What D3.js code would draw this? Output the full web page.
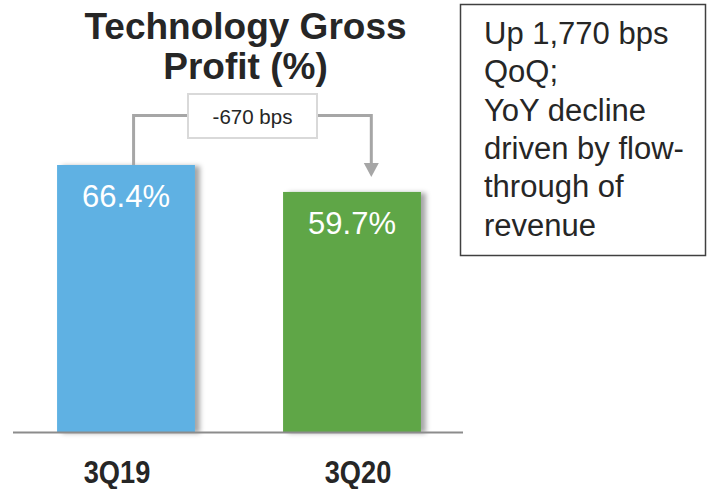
<!DOCTYPE html>
<html>
<head>
<meta charset="utf-8">
<script src="https://cdn.jsdelivr.net/npm/d3@7"></script>
<style>
  body { margin: 0; background: #fff; }
  svg { display: block; font-family: "Liberation Sans", Arial, sans-serif; }
</style>
</head>
<body>
<svg id="chart" width="708" height="489"></svg>
<script>
// data
var categories = ["3Q19", "3Q20"];
var values = [66.4, 59.7];
var barColors = ["#5eb1e3", "#5ea646"];
var titleLines = ["Technology Gross", "Profit (%)"];
var deltaLabel = "-670 bps";
var noteLines = ["Up 1,770 bps", "QoQ;", "YoY decline", "driven by flow-", "through of", "revenue"];

var svg = d3.select("#chart");
var ink = "#262626";

var x = d3.scaleBand()
    .domain(categories)
    .range([13, 465])
    .paddingInner(0.39)
    .paddingOuter(0.195);

var y = d3.scaleLinear()
    .domain([0, 70])
    .range([432, 432 - 70 * 4.021]);

// soft shadow on the right of the bars
var defs = svg.append("defs");
var f = defs.append("filter").attr("id", "shadow")
    .attr("x", "-10%").attr("y", "-10%").attr("width", "130%").attr("height", "120%");
f.append("feDropShadow")
    .attr("dx", 5).attr("dy", 1)
    .attr("stdDeviation", 2.5)
    .attr("flood-color", "#000").attr("flood-opacity", 0.35);

// title
svg.append("text")
    .attr("text-anchor", "middle")
    .attr("font-weight", "bold")
    .attr("font-size", 37)
    .attr("fill", ink)
    .selectAll("tspan")
    .data(titleLines)
    .enter().append("tspan")
    .attr("x", 245.5)
    .attr("y", function(d, i) { return 39 + i * 40; })
    .text(function(d) { return d; });

// bars
svg.selectAll(".bar")
    .data(values)
    .enter().append("rect")
    .attr("class", "bar")
    .attr("x", function(d, i) { return x(categories[i]); })
    .attr("y", function(d) { return y(d); })
    .attr("width", x.bandwidth())
    .attr("height", function(d) { return y(0) - y(d); })
    .attr("fill", function(d, i) { return barColors[i]; })
    .attr("filter", "url(#shadow)");

// value labels inside bars
svg.selectAll(".val")
    .data(values)
    .enter().append("text")
    .attr("class", "val")
    .attr("x", function(d, i) { return x(categories[i]) + x.bandwidth() / 2; })
    .attr("y", function(d) { return y(d) + 42; })
    .attr("text-anchor", "middle")
    .attr("font-size", 31)
    .attr("fill", "#fff")
    .text(function(d) { return d.toFixed(1) + "%"; });

// baseline
svg.append("line")
    .attr("x1", 13).attr("x2", 463)
    .attr("y1", y(0) + 0.5).attr("y2", y(0) + 0.5)
    .attr("stroke", "#8c8c8c")
    .attr("stroke-width", 2);

// category labels (condensed bold)
var labelShift = [-9, 6];
svg.selectAll(".cat")
    .data(categories)
    .enter().append("text")
    .attr("class", "cat")
    .attr("transform", function(d, i) {
      return "translate(" + (x(d) + x.bandwidth() / 2 + labelShift[i]) + ",483) scale(0.85,1)";
    })
    .attr("text-anchor", "middle")
    .attr("font-weight", "bold")
    .attr("font-size", 32)
    .attr("fill", ink)
    .text(function(d) { return d; });

// change connector
var lx = x(categories[0]) + x.bandwidth() * 0.555;
var rx = x(categories[1]) + x.bandwidth() * 0.64;
var lineY = 115.5;
var box = { x: 188, y: 94, w: 129, h: 44 };
var tipY = y(values[1]) - 15;

svg.append("path")
    .attr("d", "M" + lx + "," + y(values[0]) + "V" + lineY + "H" + box.x)
    .attr("fill", "none").attr("stroke", "#a6a6a6").attr("stroke-width", 3);
svg.append("path")
    .attr("d", "M" + (box.x + box.w) + "," + lineY + "H" + rx + "V" + (tipY - 13))
    .attr("fill", "none").attr("stroke", "#a6a6a6").attr("stroke-width", 3);
svg.append("path")
    .attr("d", "M" + (rx - 7.5) + "," + (tipY - 14) + "L" + (rx + 7.5) + "," + (tipY - 14) + "L" + rx + "," + tipY + "Z")
    .attr("fill", "#a6a6a6");

svg.append("rect")
    .attr("x", box.x).attr("y", box.y)
    .attr("width", box.w).attr("height", box.h)
    .attr("fill", "#fff")
    .attr("stroke", "#d9d9d9").attr("stroke-width", 2);
svg.append("text")
    .attr("x", box.x + box.w / 2)
    .attr("y", 124)
    .attr("text-anchor", "middle")
    .attr("font-size", 20.5)
    .attr("fill", ink)
    .text(deltaLabel);

// note box
svg.append("rect")
    .attr("x", 460.5).attr("y", 4.5)
    .attr("width", 245).attr("height", 251)
    .attr("fill", "#fff")
    .attr("stroke", "#404040").attr("stroke-width", 1.5);
svg.append("text")
    .attr("font-size", 31)
    .attr("fill", ink)
    .selectAll("tspan")
    .data(noteLines)
    .enter().append("tspan")
    .attr("x", 484)
    .attr("y", function(d, i) { return 44 + i * 38.3; })
    .text(function(d) { return d; });
</script>
</body>
</html>
